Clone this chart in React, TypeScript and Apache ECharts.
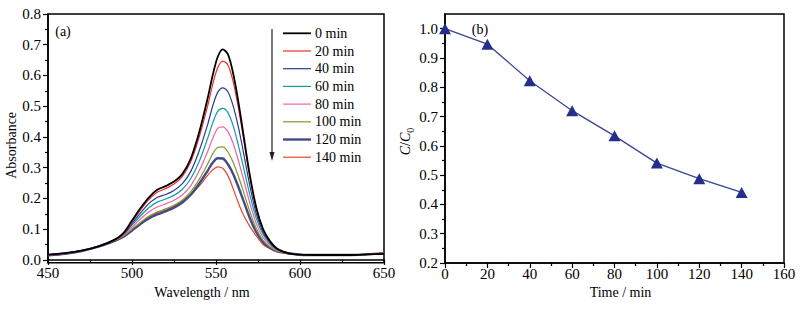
import React, { useEffect, useRef } from "react";
import * as echarts from "echarts";

const FONT = "Liberation Serif";

// ---- Panel (a): UV-vis spectra ----
const wavelengths = [450, 460, 470, 480, 490, 495, 500, 505, 510, 515, 520, 525, 530, 535, 540, 545, 548, 551, 554, 557, 560, 563, 566, 570, 574, 578, 582, 586, 590, 595, 600, 610, 620, 630, 640, 650];

const seriesNames = ["0 min", "20 min", "40 min", "60 min", "80 min", "100 min", "120 min", "140 min"];
const seriesColors = ["#000000", "#e8312b", "#2b3a8f", "#119c9f", "#ee62a9", "#7f9a2a", "#454a86", "#e0482f"];
const seriesWidths = [1.8, 1.2, 1.2, 1.2, 1.2, 1.2, 2.4, 1.2];

const abs0 = [0.017, 0.022, 0.030, 0.044, 0.067, 0.088, 0.128, 0.168, 0.203, 0.228, 0.240, 0.255, 0.280, 0.330, 0.415, 0.525, 0.600, 0.660, 0.685, 0.670, 0.612, 0.525, 0.420, 0.280, 0.170, 0.100, 0.062, 0.038, 0.027, 0.020, 0.017, 0.016, 0.016, 0.016, 0.018, 0.020];
const abs20 = [0.016, 0.021, 0.030, 0.044, 0.066, 0.086, 0.124, 0.162, 0.196, 0.220, 0.232, 0.247, 0.272, 0.320, 0.400, 0.500, 0.570, 0.625, 0.647, 0.635, 0.585, 0.505, 0.408, 0.275, 0.168, 0.100, 0.062, 0.038, 0.027, 0.020, 0.017, 0.016, 0.016, 0.016, 0.018, 0.022];
const abs40 = [0.016, 0.021, 0.030, 0.044, 0.066, 0.084, 0.118, 0.152, 0.183, 0.203, 0.213, 0.226, 0.248, 0.288, 0.355, 0.440, 0.500, 0.545, 0.560, 0.548, 0.505, 0.440, 0.360, 0.245, 0.150, 0.090, 0.057, 0.036, 0.027, 0.020, 0.017, 0.016, 0.016, 0.016, 0.018, 0.022];
const abs60 = [0.017, 0.021, 0.030, 0.044, 0.066, 0.083, 0.113, 0.143, 0.170, 0.188, 0.198, 0.210, 0.230, 0.265, 0.320, 0.395, 0.445, 0.483, 0.493, 0.480, 0.440, 0.380, 0.310, 0.215, 0.135, 0.083, 0.053, 0.034, 0.026, 0.020, 0.017, 0.016, 0.016, 0.016, 0.018, 0.022];
const abs80 = [0.017, 0.021, 0.030, 0.044, 0.065, 0.080, 0.106, 0.133, 0.156, 0.172, 0.182, 0.194, 0.212, 0.242, 0.290, 0.352, 0.395, 0.428, 0.433, 0.418, 0.382, 0.330, 0.270, 0.188, 0.118, 0.073, 0.048, 0.032, 0.026, 0.020, 0.017, 0.016, 0.016, 0.016, 0.018, 0.022];
const abs100 = [0.017, 0.021, 0.030, 0.044, 0.064, 0.078, 0.100, 0.122, 0.142, 0.156, 0.166, 0.178, 0.195, 0.222, 0.262, 0.312, 0.345, 0.366, 0.368, 0.352, 0.320, 0.277, 0.228, 0.160, 0.102, 0.064, 0.043, 0.030, 0.025, 0.020, 0.017, 0.016, 0.016, 0.016, 0.018, 0.022];
const abs120 = [0.015, 0.020, 0.029, 0.043, 0.063, 0.076, 0.096, 0.117, 0.135, 0.148, 0.158, 0.170, 0.187, 0.212, 0.248, 0.290, 0.316, 0.331, 0.330, 0.312, 0.282, 0.242, 0.198, 0.138, 0.090, 0.058, 0.040, 0.029, 0.025, 0.020, 0.017, 0.016, 0.016, 0.016, 0.018, 0.022];
const abs140 = [0.014, 0.019, 0.029, 0.043, 0.062, 0.074, 0.095, 0.118, 0.140, 0.153, 0.162, 0.175, 0.192, 0.213, 0.240, 0.275, 0.293, 0.303, 0.298, 0.275, 0.235, 0.190, 0.150, 0.110, 0.078, 0.050, 0.037, 0.028, 0.022, 0.019, 0.016, 0.015, 0.015, 0.015, 0.018, 0.020];
const absorbance = [abs0, abs20, abs40, abs60, abs80, abs100, abs120, abs140];

const yTicksA = [0, 0.1, 0.2, 0.3, 0.4, 0.5, 0.6, 0.7, 0.8];
const yMinorA = [0.05, 0.15, 0.25, 0.35, 0.45, 0.55, 0.65, 0.75];

// ---- Panel (b): C/C0 vs time ----
const timeMin = [0, 20, 40, 60, 80, 100, 120, 140];
const ratio = [1.0, 0.947, 0.822, 0.72, 0.634, 0.541, 0.488, 0.441];
const yTicksB = [0.2, 0.3, 0.4, 0.5, 0.6, 0.7, 0.8, 0.9, 1.0];
const yMinorB = [0.25, 0.35, 0.45, 0.55, 0.65, 0.75, 0.85, 0.95];

const axisLine = { show: true, lineStyle: { color: "#000", width: 1.5 } };
const tickStyle = { color: "#000", width: 1.2 };
const labelStyle = { color: "#000", fontSize: 15, fontFamily: FONT };
const nameStyle = { color: "#000", fontSize: 14, fontFamily: FONT };

export default function App() {
  const ref = useRef<HTMLDivElement>(null);
  useEffect(() => {
    if (!ref.current) return;
    const chart = echarts.init(ref.current, null, { renderer: "svg" });

    const legendX1 = 283, legendX2 = 311, legendTop = 33.3, legendStep = 17.7;
    const legendGraphics: any[] = [];
    seriesNames.forEach((n, i) => {
      const y = legendTop + i * legendStep;
      legendGraphics.push({
        type: "line",
        shape: { x1: legendX1, y1: y, x2: legendX2, y2: y },
        style: { stroke: seriesColors[i], lineWidth: seriesWidths[i] },
      });
      legendGraphics.push({
        type: "text",
        x: 315,
        y: y,
        style: { text: n, fontSize: 14, fontFamily: FONT, fill: "#000", verticalAlign: "middle", align: "left" },
      });
    });

    const specSeries = absorbance
      .map((arr, i) => ({
        type: "line",
        name: seriesNames[i],
        xAxisIndex: 0,
        yAxisIndex: 0,
        data: wavelengths.map((w, j) => [w, arr[j]]),
        showSymbol: false,
        symbol: "none",
        smooth: 0.3,
        lineStyle: { color: seriesColors[i], width: seriesWidths[i] },
        z: 10 - i,
      }))
      .reverse();

    const option: any = {
      animation: false,
      backgroundColor: "#fff",
      textStyle: { fontFamily: FONT, color: "#000" },
      grid: [
        { left: 48, right: 419, top: 14, bottom: 47.3, show: true, borderColor: "#000", borderWidth: 1.5, outerBoundsMode: "none" },
        { left: 445, right: 19, top: 14, bottom: 47, show: true, borderColor: "#000", borderWidth: 1.5, outerBoundsMode: "none" },
      ],
      xAxis: [
        {
          type: "value", gridIndex: 0, min: 450, max: 650, interval: 50,
          axisLine, axisTick: { show: true, length: 5, lineStyle: tickStyle },
          minorTick: { show: true, splitNumber: 2, length: 3, lineStyle: tickStyle },
          splitLine: { show: false }, minorSplitLine: { show: false },
          axisLabel: { ...labelStyle, margin: 3 },
          name: "Wavelength / nm", nameLocation: "middle", nameGap: 22,
          nameTextStyle: { ...nameStyle, padding: [0, 28, 0, 0] },
        },
        {
          type: "value", gridIndex: 1, min: 0, max: 160, interval: 20,
          axisLine, axisTick: { show: true, length: 5, lineStyle: tickStyle },
          minorTick: { show: true, splitNumber: 2, length: 3, lineStyle: tickStyle },
          splitLine: { show: false }, minorSplitLine: { show: false },
          axisLabel: { ...labelStyle, margin: 3 },
          name: "Time / min", nameLocation: "middle", nameGap: 22,
          nameTextStyle: { ...nameStyle, padding: [0, 0, 0, 12] },
        },
      ],
      yAxis: [
        {
          type: "value", gridIndex: 0, min: -0.009, max: 0.8, position: "left",
          axisLine,
          axisTick: { show: true, length: 5, lineStyle: tickStyle, customValues: yTicksA },
          splitLine: { show: false },
          axisLabel: { ...labelStyle, margin: 7, customValues: yTicksA, formatter: (v: number) => v.toFixed(1) },
          name: "Absorbance", nameLocation: "middle", nameGap: 30,
          nameTextStyle: { ...nameStyle, padding: [0, 14, 0, 0] },
        },
        {
          type: "value", gridIndex: 0, min: -0.009, max: 0.8, position: "left",
          axisLine: { show: false },
          axisTick: { show: true, length: 3, lineStyle: tickStyle, customValues: yMinorA },
          splitLine: { show: false },
          axisLabel: { show: false },
        },
        {
          type: "value", gridIndex: 1, min: 0.2, max: 1.05, position: "left",
          axisLine,
          axisTick: { show: true, length: 5, lineStyle: tickStyle, customValues: yTicksB },
          splitLine: { show: false },
          axisLabel: { ...labelStyle, margin: 7, customValues: yTicksB, formatter: (v: number) => v.toFixed(1) },
          name: "{i|C}{n|/}{i|C}{s|0}", nameLocation: "middle", nameGap: 30,
          nameTextStyle: {
            ...nameStyle,
            padding: [0, 6, 0, 0],
            rich: {
              i: { fontSize: 14, fontFamily: FONT, fontStyle: "italic", lineHeight: 20, color: "#000" },
              n: { fontSize: 14, fontFamily: FONT, lineHeight: 20, color: "#000" },
              s: { fontSize: 10, fontFamily: FONT, lineHeight: 10, verticalAlign: "bottom", color: "#000" },
            },
          },
        },
        {
          type: "value", gridIndex: 1, min: 0.2, max: 1.05, position: "left",
          axisLine: { show: false },
          axisTick: { show: true, length: 3, lineStyle: tickStyle, customValues: yMinorB },
          splitLine: { show: false },
          axisLabel: { show: false },
        },
      ],
      series: [
        ...specSeries,
        {
          type: "line",
          name: "C/C0",
          xAxisIndex: 1,
          yAxisIndex: 2,
          data: timeMin.map((t, i) => [t, ratio[i]]),
          symbol: "triangle",
          symbolSize: [12, 11],
          itemStyle: { color: "#252e8c" },
          lineStyle: { color: "#3a4595", width: 1.3 },
          z: 20,
        },
      ],
      graphic: [
        ...legendGraphics,
        {
          type: "line",
          shape: { x1: 272, y1: 29, x2: 272, y2: 155 },
          style: { stroke: "#222", lineWidth: 1.2 },
        },
        {
          type: "polygon",
          shape: { points: [[269.5, 152], [274.5, 152], [272, 161]] },
          style: { fill: "#222" },
        },
        {
          type: "text", x: 63, y: 31,
          style: { text: "(a)", fontSize: 14, fontFamily: FONT, fill: "#000", align: "center", verticalAlign: "middle" },
        },
        {
          type: "text", x: 480, y: 29.5,
          style: { text: "(b)", fontSize: 14, fontFamily: FONT, fill: "#000", align: "center", verticalAlign: "middle" },
        },
      ],
    };
    chart.setOption(option);
    return () => chart.dispose();
  }, []);

  return (
    <div
      ref={ref}
      style={{ position: "absolute", left: 0, top: 0, width: 803, height: 310, background: "#fff" }}
    />
  );
}
